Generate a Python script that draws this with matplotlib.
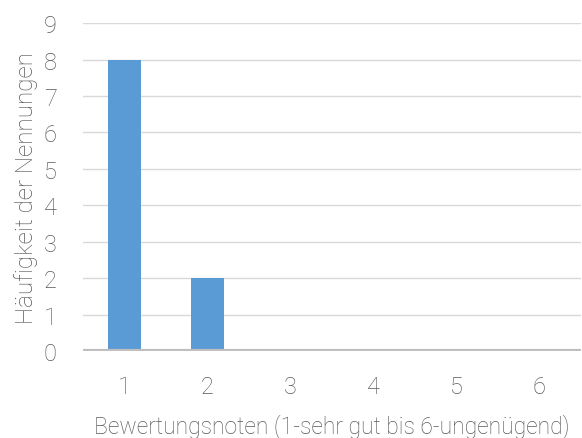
import matplotlib.pyplot as plt

plt.rcParams["font.family"] = ["Roboto", "DejaVu Sans"]

categories = ["1", "2", "3", "4", "5", "6"]
counts = [8, 2, 0, 0, 0, 0]
y_ticks = list(range(0, 10))

TEXT = "#595959"

fig = plt.figure(figsize=(5.82, 4.39), dpi=100)
ax = fig.add_axes([0.1426, 0.198, 0.855, 0.747])

x = list(range(len(categories)))
ax.bar(x, counts, width=0.4, color="#5B9BD5", zorder=3)

ax.set_xlim(-0.5, len(categories) - 0.5)
ax.set_ylim(0, 9)
ax.set_yticks(y_ticks)
ax.set_xticks(x)
ax.set_xticklabels(categories)
ax.grid(axis="y", color="#D9D9D9", linewidth=1, zorder=0)
ax.axhline(0, color="#BFBFBF", linewidth=3, zorder=4)

for s in ax.spines.values():
    s.set_visible(False)
ax.tick_params(length=0, labelsize=17, labelcolor=TEXT)
ax.tick_params(axis="x", pad=17)
ax.tick_params(axis="y", pad=19)
for lab in ax.get_xticklabels() + ax.get_yticklabels():
    lab.set_fontweight("light")

ax.set_xlabel("Bewertungsnoten (1-sehr gut bis 6-ungenügend)", fontsize=16.5,
              color=TEXT, fontweight="light", labelpad=11)
ax.set_ylabel("Häufigkeit der Nennungen", fontsize=17.5, color=TEXT,
              fontweight="light", labelpad=4)

fig.savefig("out.png", dpi=100)
